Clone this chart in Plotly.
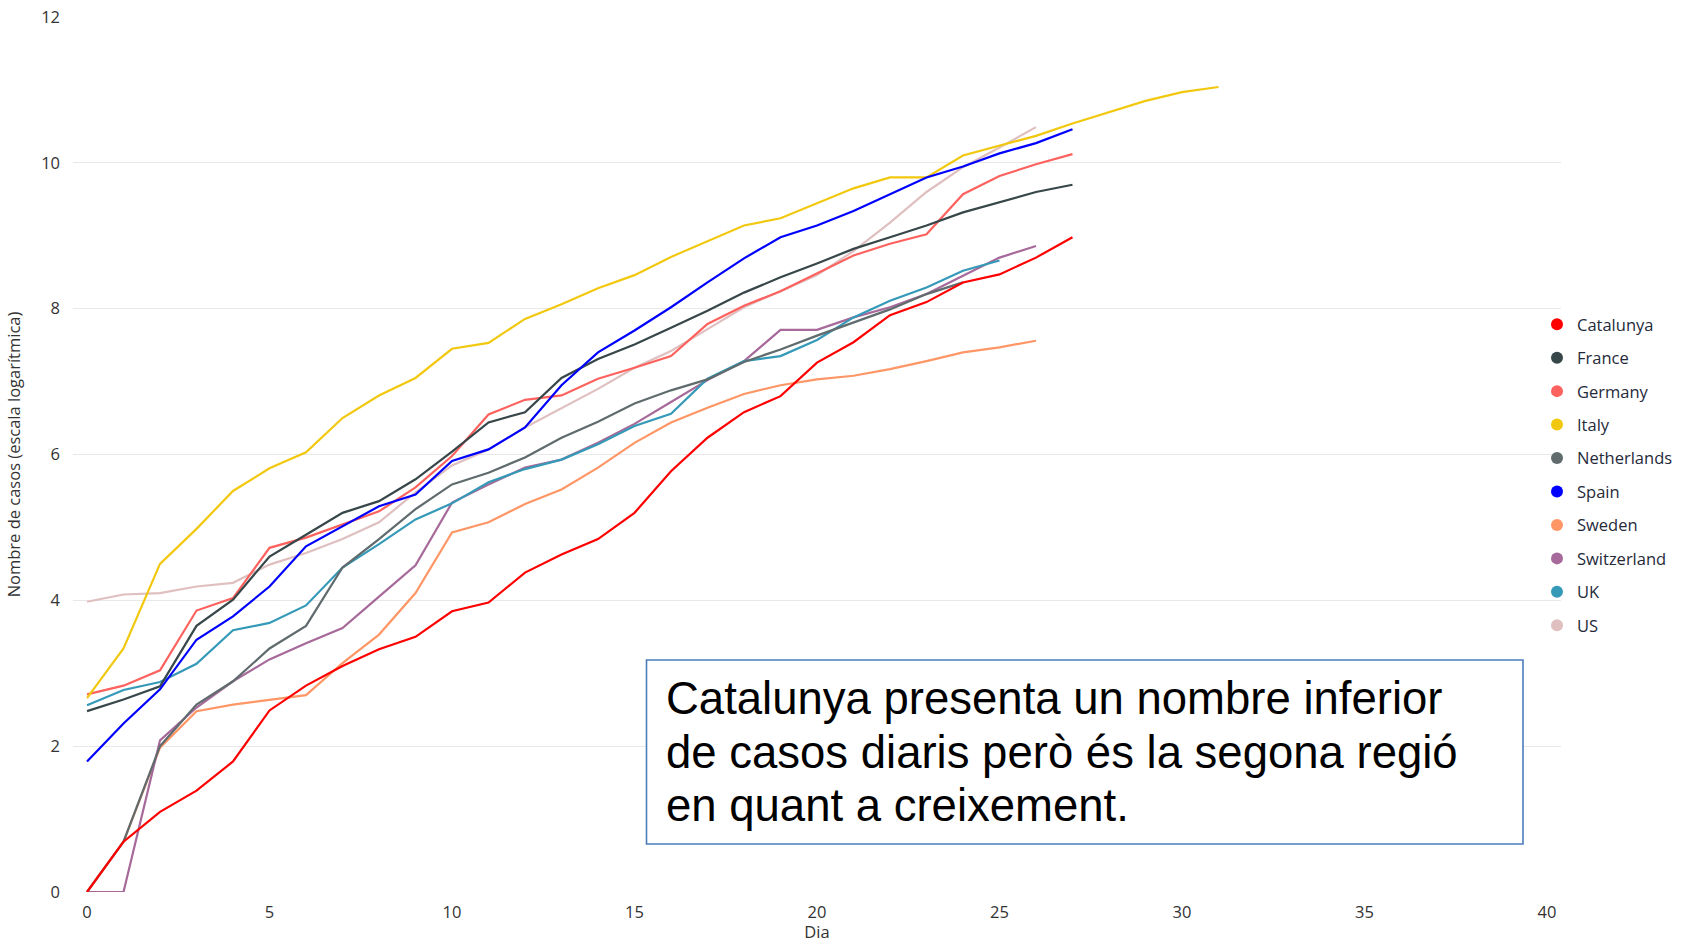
import plotly.graph_objects as go

# ---- data (log of cumulative cases) ----
catalunya = [0, 0.69, 1.1, 1.39, 1.79, 2.49, 2.83, 3.1, 3.33, 3.5, 3.85, 3.97, 4.38, 4.63, 4.84,
             5.2, 5.77, 6.23, 6.58, 6.8, 7.26, 7.54, 7.91, 8.09, 8.36, 8.47, 8.7, 8.98]
france = [2.48, 2.64, 2.82, 3.65, 4.01, 4.6, 4.9, 5.2, 5.36, 5.66, 6.04, 6.44, 6.58, 7.05, 7.31,
          7.51, 7.74, 7.97, 8.22, 8.43, 8.62, 8.82, 8.98, 9.14, 9.32, 9.46, 9.6, 9.7]
germany = [2.71, 2.83, 3.04, 3.86, 4.03, 4.72, 4.86, 5.04, 5.22, 5.55, 5.98, 6.55, 6.75, 6.81, 7.04,
           7.19, 7.35, 7.79, 8.04, 8.24, 8.48, 8.73, 8.89, 9.02, 9.57, 9.82, 9.98, 10.12]
italy = [2.66, 3.34, 4.5, 4.98, 5.5, 5.81, 6.03, 6.5, 6.81, 7.05, 7.45, 7.53, 7.86, 8.06, 8.28,
         8.46, 8.71, 8.92, 9.14, 9.24, 9.45, 9.65, 9.8, 9.8, 10.1, 10.23, 10.37, 10.54, 10.7,
         10.85, 10.97, 11.04]
netherlands = [0, 0.69, 2.0, 2.57, 2.89, 3.34, 3.65, 4.45, 4.84, 5.25, 5.59, 5.75, 5.96, 6.23, 6.45,
               6.7, 6.88, 7.03, 7.27, 7.44, 7.63, 7.81, 7.99, 8.2, 8.36]
spain = [1.79, 2.31, 2.78, 3.46, 3.78, 4.19, 4.74, 5.02, 5.29, 5.45, 5.91, 6.07, 6.37, 6.95, 7.4,
         7.7, 8.02, 8.36, 8.69, 8.98, 9.14, 9.34, 9.57, 9.8, 9.95, 10.13, 10.27, 10.46]
sweden = [0, 0.69, 1.98, 2.48, 2.57, 2.64, 2.7, 3.14, 3.53, 4.1, 4.93, 5.07, 5.32, 5.52, 5.82,
          6.16, 6.44, 6.64, 6.83, 6.95, 7.03, 7.08, 7.17, 7.28, 7.4, 7.47, 7.56]
switzerland = [0, 0, 2.08, 2.53, 2.89, 3.19, 3.41, 3.62, 4.05, 4.48, 5.34, 5.59, 5.82, 5.93, 6.16,
               6.42, 6.72, 7.02, 7.28, 7.71, 7.71, 7.88, 8.02, 8.2, 8.45, 8.7, 8.86]
uk = [2.56, 2.77, 2.88, 3.13, 3.59, 3.69, 3.93, 4.45, 4.77, 5.11, 5.33, 5.62, 5.8, 5.93, 6.14,
      6.39, 6.56, 7.04, 7.28, 7.35, 7.57, 7.88, 8.11, 8.29, 8.52, 8.66]
us = [3.98, 4.08, 4.1, 4.19, 4.24, 4.49, 4.65, 4.84, 5.07, 5.48, 5.85, 6.07, 6.37, 6.64, 6.9,
      7.19, 7.42, 7.72, 8.02, 8.24, 8.46, 8.79, 9.18, 9.6, 9.94, 10.21, 10.49]

names = ["Catalunya", "France", "Germany", "Italy", "Netherlands", "Spain", "Sweden",
         "Switzerland", "UK", "US"]
series = [catalunya, france, germany, italy, netherlands, spain, sweden, switzerland, uk, us]
colors = ["#FF0000", "#374649", "#FD625E", "#F2C80F", "#5F6B6D", "#0000FF", "#FE9666",
          "#A66999", "#3599B8", "#DFBFBF"]

x_ticks = [0, 5, 10, 15, 20, 25, 30, 35, 40]
y_ticks = [0, 2, 4, 6, 8, 10, 12]

annotation_lines = ["Catalunya presenta un nombre inferior",
                    "de casos diaris però és la segona regió",
                    "en quant a creixement."]

W, H = 1688, 943
L, R, T, B = 73, 127, 17, 51
pw, ph = W - L - R, H - T - B

def px_x(p):
    return (p - L) / pw

def px_y(p):
    return (H - B - p) / ph

fig = go.Figure()

# draw order: later = on top (roughly as in reference)
order = [9, 6, 7, 8, 4, 2, 1, 3, 5, 0]
for i in order:
    vals = series[i]
    fig.add_trace(go.Scatter(
        x=list(range(len(vals))), y=vals, mode="lines",
        line=dict(color=colors[i], width=2.2), name=names[i],
        showlegend=False, hoverinfo="skip"))

for i, n in enumerate(names):
    fig.add_trace(go.Scatter(
        x=[None], y=[None], mode="markers", name=n, legendgroup=n,
        marker=dict(color=colors[i], size=12, symbol="circle"), showlegend=True))

font_ui = "Open Sans, Noto Sans, DejaVu Sans, sans-serif"

fig.update_layout(
    width=W, height=H,
    margin=dict(l=L, r=R, t=T, b=B, autoexpand=False),
    paper_bgcolor="white", plot_bgcolor="white",
    font=dict(family=font_ui, size=16, color="#333333"),
    showlegend=True,
    legend=dict(
        x=px_x(1537), xanchor="left", y=px_y(475), yanchor="middle",
        font=dict(family=font_ui, size=16.5, color="#252A3A"),
        tracegroupgap=9, itemwidth=30, bgcolor="rgba(0,0,0,0)",
        traceorder="grouped",
    ),
    xaxis=dict(
        range=[-0.384, 40.384], tickvals=x_ticks, ticktext=[str(v) for v in x_ticks],
        showgrid=False, zeroline=False, showline=False, ticks="",
        ticklabelstandoff=8,
        tickfont=dict(size=16.5, color="#333333"),
        title=dict(text="Dia", font=dict(size=16.5, color="#333333"), standoff=12),
        automargin=False,
    ),
    yaxis=dict(
        range=[0, 12], tickvals=y_ticks, ticktext=[str(v) for v in y_ticks],
        showgrid=True, gridcolor="#E8E8E8", gridwidth=1,
        zeroline=False, showline=False, ticks="",
        ticklabelstandoff=12,
        tickfont=dict(size=16.5, color="#333333"),
        title=dict(text="Nombre de casos (escala logarítmica)",
                   font=dict(size=16.5, color="#333333"), standoff=16),
        automargin=False,
    ),
    hovermode=False,
)

# callout box
fig.add_shape(type="rect", xref="paper", yref="paper",
              x0=px_x(646.5), x1=px_x(1523), y0=px_y(844), y1=px_y(660),
              line=dict(color="#4A7DBA", width=1.6), fillcolor="white", layer="above")

line_centers = [699, 752, 805]
for txt, cy in zip(annotation_lines, line_centers):
    fig.add_annotation(
        xref="paper", yref="paper", x=px_x(664), y=px_y(cy),
        xanchor="left", yanchor="middle", showarrow=False, text=txt,
        font=dict(family="Liberation Sans, Arial, sans-serif", size=45.5, color="#000000"))

fig.write_html(
    "out.html",
    config={"displayModeBar": False},
    post_script="document.body.style.margin='0px';document.body.style.overflow='hidden';",
)
